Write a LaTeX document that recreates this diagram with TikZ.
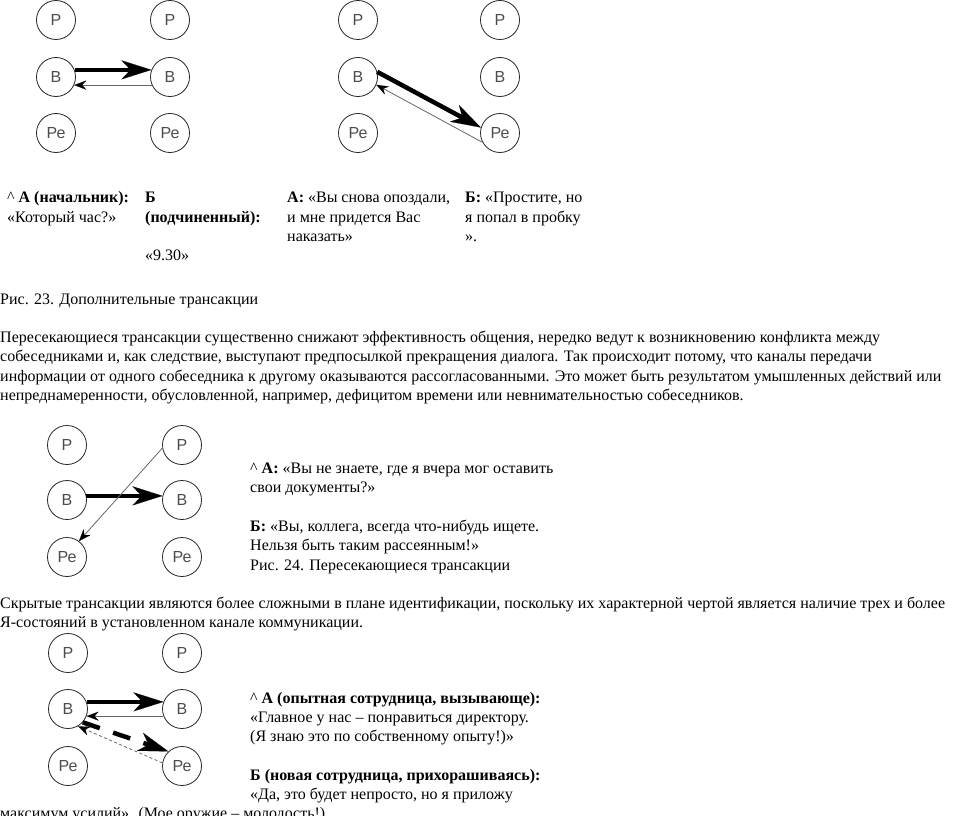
\documentclass[tikz,border=0pt]{standalone}
\usepackage{fontspec}
\setmainfont{Liberation Serif}
\setsansfont{Liberation Sans}
\usetikzlibrary{arrows.meta}
\begin{document}
\begin{tikzpicture}[x=1pt,y=-1pt,
  ego/.style={circle,draw=black!85,line width=0.8pt,minimum size=39pt,inner sep=0pt,
    font=\sffamily\fontsize{16}{16}\selectfont,text=black!70},
  strongarrow/.style={line width=4.5pt,draw=black,-{Stealth[length=30pt,width=19pt,inset=9pt,line width=0.1pt]}},
  weakarrow/.style={line width=0.8pt,draw=black!60,-{Stealth[length=12pt,width=9pt,inset=4pt,color=black,line width=0.1pt]}},
  txt/.style={anchor=base west,inner sep=0pt,align=left,font=\fontsize{16}{19.3}\selectfont}]
\useasboundingbox (0,0) rectangle (980,816);
% ---------- diagram 1 ----------
\node[ego] (d1p1) at (56,20) {Р};
\node[ego] (d1b1) at (56,77) {В};
\node[ego] (d1pe1) at (56,133) {Ре};
\node[ego] (d1p2) at (170,20) {Р};
\node[ego] (d1b2) at (170,77) {В};
\node[ego] (d1pe2) at (170,133) {Ре};
\draw[strongarrow] (d1b1.21) -- (d1b2.159);
\draw[weakarrow] (d1b2.204) -- (d1b1.336);
% ---------- diagram 2 ----------
\node[ego] (d2p1) at (358,20) {Р};
\node[ego] (d2b1) at (358,77) {В};
\node[ego] (d2pe1) at (358,133) {Ре};
\node[ego] (d2p2) at (500,20) {Р};
\node[ego] (d2b2) at (500,77) {В};
\node[ego] (d2pe2) at (500,133) {Ре};
\draw[strongarrow] (d2b1.15) -- (d2pe2.164);
\draw[weakarrow] (d2pe2.208) -- (d2b1.337);
% ---------- table texts (anchored at last baseline) ----------
\node[txt] (c1) at (7,222.0) {\^{} \textbf{А (начальник):}\\«Который час?»};
\node[txt] (c2) at (145,260.6) {\textbf{Б}\\\textbf{(подчиненный):}\\[19.3pt]«9.30»};
\node[txt] (c3) at (287,241.3) {\textbf{А:} «Вы снова опоздали,\\и мне придется Вас\\наказать»};
\node[txt] (c4) at (465,241.3) {\textbf{Б:} «Простите, но\\я попал в пробку\\».};
\node[txt] (cap23) at (0,304) {Рис. 23. Дополнительные трансакции};
\node[txt] (par1) at (0,400.5) {Пересекающиеся трансакции существенно снижают эффективность общения, нередко ведут к возникновению конфликта между\\
собеседниками и, как следствие, выступают предпосылкой прекращения диалога. Так происходит потому, что каналы передачи\\
информации от одного собеседника к другому оказываются рассогласованными. Это может быть результатом умышленных действий или\\
непреднамеренности, обусловленной, например, дефицитом времени или невнимательностью собеседников.};
% ---------- diagram 3 ----------
\node[ego] (d3p1) at (67,445) {Р};
\node[ego] (d3b1) at (67,500) {В};
\node[ego] (d3pe1) at (67,557) {Ре};
\node[ego] (d3p2) at (182,445) {Р};
\node[ego] (d3b2) at (182,500) {В};
\node[ego] (d3pe2) at (182,557) {Ре};
\draw[strongarrow] (d3b1.12) -- (d3b2.168);
\draw[weakarrow] (d3p2.189) -- (d3pe1.53);
\node[txt] (t3) at (250,570.0) {\^{} \textbf{А:} «Вы не знаете, где я вчера мог оставить\\свои документы?»\\[19.3pt]
\textbf{Б:} «Вы, коллега, всегда что-нибудь ищете.\\Нельзя быть таким рассеянным!»\\Рис. 24. Пересекающиеся трансакции};
\node[txt] (par2) at (0,627.9) {Скрытые трансакции являются более сложными в плане идентификации, поскольку их характерной чертой является наличие трех и более\\
Я-состояний в установленном канале коммуникации.};
% ---------- diagram 4 ----------
\node[ego] (d4p1) at (68,653) {Р};
\node[ego] (d4b1) at (68,709) {В};
\node[ego] (d4pe1) at (68,766) {Ре};
\node[ego] (d4p2) at (182,653) {Р};
\node[ego] (d4b2) at (182,709) {В};
\node[ego] (d4pe2) at (182,766) {Ре};
\draw[strongarrow] (d4b1.21) -- (d4b2.159);
\draw[weakarrow] (d4b2.201) -- (d4b1.339);
\draw[strongarrow,dash pattern=on 18pt off 14pt] (d4b1.318) -- (d4pe2.133);
\draw[weakarrow,dash pattern=on 3pt off 2.5pt] (d4pe2.171) -- (d4b1.300);
\node[txt] (t4) at (250,799.5) {\^{} \textbf{А (опытная сотрудница, вызывающе):}\\«Главное у нас – понравиться директору.\\(Я знаю это по собственному опыту!)»\\[19.3pt]
\textbf{Б (новая сотрудница, прихорашиваясь):}\\«Да, это будет непросто, но я приложу};
\node[txt] (t4b) at (0,818.5) {максимум усилий». (Мое оружие – молодость!)};
\end{tikzpicture}
\end{document}
